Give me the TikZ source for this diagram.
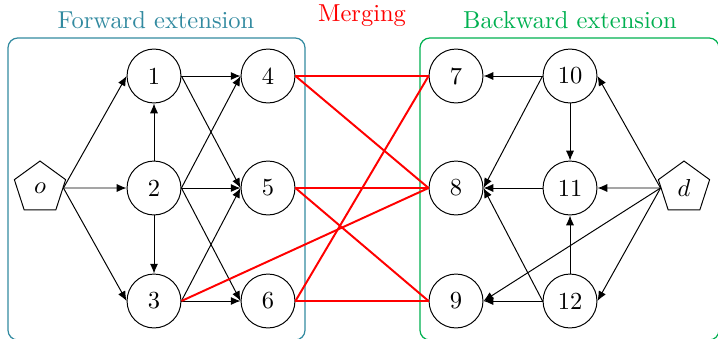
\documentclass[tikz,border=0pt]{standalone}
\usetikzlibrary{shapes.geometric,arrows.meta}
\definecolor{fwd}{RGB}{50,138,160}
\definecolor{bwd}{RGB}{0,176,80}
\begin{document}
\begin{tikzpicture}[x=0.408pt,y=-0.408pt,
  nd/.style={circle, draw, line width=0.4pt, minimum size=22pt, inner sep=0pt},
  pent/.style={regular polygon, regular polygon sides=5, draw, line width=0.4pt, minimum size=22pt, inner sep=0pt},
  arr/.style={-{Latex[length=4pt,width=3.3pt]}, line width=0.4pt},
  mrg/.style={red, line width=0.8pt},
  boxstyle/.style={rounded corners=4pt, line width=0.5pt}]
\useasboundingbox (0,0) rectangle (718,338);
% boxes
\begin{scope}
\clip (0,0) rectangle (718,338);
\draw[boxstyle, fwd] (8,38) rectangle (305,340);
\draw[boxstyle, bwd] (420,38) rectangle (719,340);
\end{scope}
\node[text=fwd] (lf) at (156,20) {Forward extension};
\node[text=red] (lm) at (362,16) {Merging};
\node[text=bwd] (lb) at (570,20) {Backward extension};
% nodes
\node[pent] (o) at (40,188) {$o$};
\node[nd] (n1) at (154,76) {1};
\node[nd] (n2) at (154,188) {2};
\node[nd] (n3) at (154,301) {3};
\node[nd] (n4) at (268,76) {4};
\node[nd] (n5) at (268,188) {5};
\node[nd] (n6) at (268,301) {6};
\node[nd] (n7) at (456,76) {7};
\node[nd] (n8) at (456,188) {8};
\node[nd] (n9) at (456,301) {9};
\node[nd] (n10) at (570,76) {10};
\node[nd] (n11) at (570,188) {11};
\node[nd] (n12) at (570,301) {12};
\node[pent] (d) at (684,188) {$d$};
% forward edges
\draw[arr] (o.east) -- (n1.west);
\draw[arr] (o.east) -- (n2.west);
\draw[arr] (o.east) -- (n3.west);
\draw[arr] (n2) -- (n1);
\draw[arr] (n2) -- (n3);
\draw[arr] (n1.east) -- (n4.west);
\draw[arr] (n1.east) -- (n5.west);
\draw[arr] (n2.east) -- (n4.west);
\draw[arr] (n2.east) -- (n5.west);
\draw[arr] (n2.east) -- (n6.west);
\draw[arr] (n3.east) -- (n5.west);
\draw[arr] (n3.east) -- (n6.west);
% backward edges
\draw[arr] (n10.west) -- (n7.east);
\draw[arr] (n10.west) -- (n8.east);
\draw[arr] (n10) -- (n11);
\draw[arr] (n11.west) -- (n8.east);
\draw[arr] (n12.west) -- (n8.east);
\draw[arr] (n12.west) -- (n9.east);
\draw[arr] (n12) -- (n11);
\draw[arr] (d.west) -- (n10.east);
\draw[arr] (d.west) -- (n11.east);
\draw[arr] (d.west) -- (n9.east);
\draw[arr] (d.west) -- (n12.east);
% merging
\draw[mrg] (n4.east) -- (n7.west);
\draw[mrg] (n4.east) -- (n8.west);
\draw[mrg] (n5.east) -- (n8.west);
\draw[mrg] (n5.east) -- (n9.west);
\draw[mrg] (n3.east) -- (n8.west);
\draw[mrg] (n6.east) -- (n7.west);
\draw[mrg] (n6.east) -- (n9.west);
\end{tikzpicture}
\end{document}
